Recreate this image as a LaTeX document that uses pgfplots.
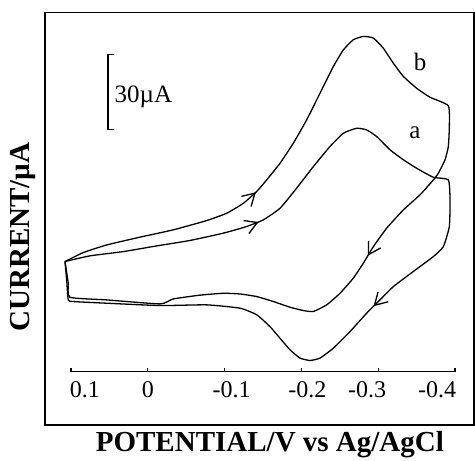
\documentclass[border=0pt]{standalone}
\usepackage{fontspec}
\setmainfont{Liberation Serif}
\usepackage{pgfplots}
\pgfplotsset{compat=1.18}
\usetikzlibrary{decorations.markings,arrows.meta}
\begin{document}
\begin{tikzpicture}
\begin{axis}[
  scale only axis, width=384pt, height=359pt,
  xmin=-0.4, xmax=0.1, x dir=reverse,
  ymin=-30.4, ymax=121.3,
  axis x line*=bottom, axis y line=none,
  clip=false,
  xtick={0.1,0,-0.1,-0.2,-0.3,-0.4},
  xticklabels={\kern14pt 0.1\kern-14pt, 0, \kern7pt -0.1\kern-7pt, \kern6pt -0.2\kern-6pt, \kern-11pt -0.3\kern11pt, \kern-18pt -0.4\kern18pt},
  tick align=inside, major tick length=4pt,
  xticklabel style={anchor=base, yshift=-26pt, font=\fontsize{24}{27}\selectfont},
  every axis x line/.append style={line width=1.2pt, -},
  every tick/.style={line width=1.2pt, black},
  line width=1.3pt,
]
\addplot[black, line width=1.3pt, smooth, tension=0.3, postaction={decorate},
  decoration={markings,
    mark=at position 0.195 with {\arrow{Straight Barb[length=12pt,width=14pt]}},
    mark=at position 0.655 with {\arrow{Straight Barb[length=12pt,width=14pt]}}}]
coordinates {
(0.1078,16.2) (0.0839,20.0) (0.0536,23.2) (0.0102,26.5) (-0.0332,29.6) (-0.0766,33.5)
(-0.1027,36.6) (-0.1244,40.8) (-0.1418,45.8) (-0.1548,50.7) (-0.1721,57.7) (-0.1895,66.2)
(-0.2069,76.1) (-0.2242,87.3) (-0.2416,98.6) (-0.2546,105.6) (-0.2676,109.9) (-0.2806,111.3)
(-0.2937,110.6) (-0.3067,106.3) (-0.3197,100.0) (-0.3327,94.4) (-0.3501,89.4) (-0.3675,85.6)
(-0.3913,82.0) (-0.3926,73.2) (-0.3913,64.8) (-0.3870,59.2) (-0.3783,53.5) (-0.3718,50.7)
(-0.3544,44.4) (-0.3327,38.0) (-0.3110,30.3) (-0.2937,22.5) (-0.2806,15.5) (-0.2676,9.2)
(-0.2503,2.8) (-0.2329,-2.1) (-0.2155,-4.9) (-0.2025,-4.5) (-0.1852,-3.1) (-0.1635,-0.7)
(-0.1418,1.4) (-0.1200,2.5) (-0.0984,2.8) (-0.0680,2.0) (-0.0332,0.4) (-0.0159,-1.7)
(0.0536,0.0) (0.1013,1.1) (0.1035,7.0) (0.1065,13.5) (0.1078,16.2)
};
\addplot[black, line width=1.3pt, smooth, tension=0.3, postaction={decorate},
  decoration={markings,
    mark=at position 0.2 with {\arrow{Straight Barb[length=12pt,width=14pt]}},
    mark=at position 0.61 with {\arrow{Straight Barb[length=12pt,width=14pt]}}}]
coordinates {
(0.1078,16.2) (0.0753,18.6) (0.0319,20.4) (-0.0115,22.8) (-0.0549,25.1) (-0.0984,28.2)
(-0.1287,31.0) (-0.1504,33.8) (-0.1721,38.7) (-0.1938,47.2) (-0.2155,56.3) (-0.2372,64.8)
(-0.2546,70.4) (-0.2720,72.5) (-0.2850,71.8) (-0.2980,69.0) (-0.3154,63.4) (-0.3327,59.2)
(-0.3501,55.6) (-0.3718,51.8) (-0.3913,50.7) (-0.3935,42.3) (-0.3926,31.0) (-0.3848,22.5)
(-0.3718,18.3) (-0.3457,12.0) (-0.3197,5.6) (-0.3023,0.0) (-0.2850,-5.6) (-0.2633,-13.4)
(-0.2416,-20.4) (-0.2242,-24.6) (-0.2112,-25.6) (-0.1982,-24.6) (-0.1852,-21.1) (-0.1721,-16.2)
(-0.1591,-11.3) (-0.1418,-6.3) (-0.1200,-3.5) (-0.0766,-2.1) (-0.0159,-2.4) (0.0536,-1.4)
(0.0970,-0.7) (0.1035,0.0) (0.1056,8.5) (0.1078,16.2)
};
% frame
\draw[line width=1.3pt] (axis cs:0.1339,-52.8) rectangle (axis cs:-0.4247,121.3);
% scale bar
\draw[line width=1.1pt] (axis cs:0.0440,103.5) -- (axis cs:0.0518,103.5) -- (axis cs:0.0518,71.8) -- (axis cs:0.0440,71.8);
\node[anchor=base west, inner sep=0pt, font=\fontsize{25}{28}\selectfont] at (axis cs:0.0440,83.2) {30µA};
\node[font=\fontsize{25}{28}\selectfont] at (axis cs:-0.3544,100.5) {b};
\node[font=\fontsize{25}{28}\selectfont] at (axis cs:-0.3479,70.6) {a};
% axis labels
\node[anchor=base, inner sep=0pt, font=\bfseries\fontsize{29}{32}\selectfont] at (axis cs:-0.159,-64.0) {POTENTIAL/V vs Ag/AgCl};
\node[rotate=90, inner sep=0pt, font=\bfseries\fontsize{29}{32}\selectfont] at (axis cs:0.1625,26.6) {CURRENT/µA};
\coordinate (bl) at (axis cs:0.1924,-68.0);
\coordinate (tr) at (axis cs:-0.426,126.7);
\end{axis}
\pgfresetboundingbox
\useasboundingbox (bl) rectangle (tr);
\end{tikzpicture}
\end{document}
